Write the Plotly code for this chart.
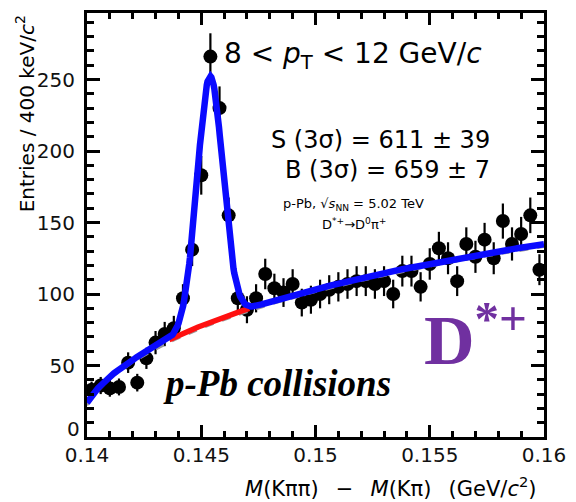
import numpy as np
import plotly.graph_objects as go

# ---------------- data ----------------
bin_width = 0.0004          # GeV/c^2 (400 keV)
mass_lo, mass_hi = 0.14, 0.16
bin_centers = [round(mass_lo + bin_width * (i + 0.5), 5) for i in range(50)]

entries = [33, 36, 34, 35, 52, 38, 55, 66, 72, 76,
           97, 131, 183, 266, 230, 155, 97, 89, 97, 114,
           104, 101, 107, 94, 96, 100, 103, 105, 107, 109,
           109, 107, 109, 100, 116, 116, 105, 121, 132, 125,
           109, 135, 126, 138, 125, 151, 135, 142, 155, 117]
errors = [float(np.sqrt(n)) for n in entries]

# fit parameters
m_pion = 0.13957
bkg_norm = 954.0
bkg_power = 0.475
bkg_slope = -5.3
sig_amp = 172.0
sig_mean = 0.14538
sig_sigma = 0.00056
red_range = [0.1436, 0.1471]
sideband_offset = 1.8

x_ticks = [0.14, 0.145, 0.15, 0.155, 0.16]
x_tick_text = ["0.14", "0.145", "0.15", "0.155", "0.16"]
y_ticks = [0, 50, 100, 150, 200, 250]
y_tick_text = ["", "50", "100", "150", "200", "250"]   # "0" is drawn a little higher, as in the original


def background(x, shift=0.0):
    dx = x - m_pion
    return bkg_norm * dx ** bkg_power * np.exp(bkg_slope * dx) - shift


def total(x):
    return background(x) + sig_amp * np.exp(-0.5 * ((x - sig_mean) / sig_sigma) ** 2)


xf = np.linspace(mass_lo, mass_hi, 600)
xr = np.linspace(red_range[0], red_range[1], 120)

SANS = "DejaVu Sans"
SERIF = "Liberation Serif"

fig = go.Figure()
fig.add_trace(go.Scatter(
    x=bin_centers, y=entries, mode="markers",
    marker=dict(color="black", size=14),
    error_y=dict(type="data", array=errors, color="black", thickness=2.2, width=0),
    showlegend=False, hoverinfo="x+y"))
fig.add_trace(go.Scatter(
    x=xf, y=background(xf, sideband_offset), mode="lines",
    line=dict(color="#9a9a9a", width=2.5, dash="dash"), showlegend=False))
fig.add_trace(go.Scatter(
    x=xr, y=background(xr), mode="lines",
    line=dict(color="#ff1010", width=5.5), showlegend=False))
fig.add_trace(go.Scatter(
    x=xf, y=total(xf), mode="lines",
    line=dict(color="#0a0aff", width=6.5), showlegend=False))

axis_common = dict(
    showline=True, linecolor="black", linewidth=3, mirror="ticks",
    ticks="inside", tickcolor="black", tickwidth=2.5,
    showgrid=False, zeroline=False, ticklabeloverflow="allow",
    tickfont=dict(family=SANS, size=20, color="#111"),
)
fig.update_xaxes(
    range=[mass_lo, mass_hi], tickvals=x_ticks, ticktext=x_tick_text,
    ticklen=12, ticklabelstandoff=-2,
    minor=dict(ticks="inside", dtick=0.001, ticklen=6, tickwidth=2.5, tickcolor="black",
               showgrid=False),
    **axis_common)
fig.update_yaxes(
    range=[0, 296.5], tickvals=y_ticks, ticktext=y_tick_text, ticklen=13, ticklabelstandoff=5,
    minor=dict(ticks="inside", dtick=10, ticklen=7, tickwidth=2.5, tickcolor="black",
               showgrid=False),
    **axis_common)

ann = []
ann.append(dict(x=-0.011, y=0.0, xref="paper", yref="paper", xanchor="right", yanchor="bottom",
                yshift=-6, text="0",
                font=dict(family=SANS, size=20, color="#111"), showarrow=False))
ann.append(dict(x=0.14592, y=267, xref="x", yref="y", xanchor="left", yanchor="middle",
                text="8 &lt; <i>p</i><sub>T</sub> &lt; 12 GeV/<i>c</i>",
                font=dict(family=SANS, size=28, color="black"), showarrow=False))
ann.append(dict(x=0.15774, y=207.6, xref="x", yref="y", xanchor="right", yanchor="middle",
                text="S (3σ) = 611 ± 39",
                font=dict(family=SANS, size=24, color="black"), showarrow=False))
ann.append(dict(x=0.15774, y=186.8, xref="x", yref="y", xanchor="right", yanchor="middle",
                text="B (3σ) = 659 ± 7",
                font=dict(family=SANS, size=24, color="black"), showarrow=False))
ann.append(dict(x=0.151667, y=162.5, xref="x", yref="y", xanchor="center", yanchor="middle",
                text="p-Pb, √<i>s</i><sub>NN</sub> = 5.02 TeV",
                font=dict(family=SANS, size=13, color="black"), showarrow=False))
ann.append(dict(x=0.151667, y=149.3, xref="x", yref="y", xanchor="center", yanchor="middle",
                text="D<sup>*+</sup>→D<sup>0</sup>π<sup>+</sup>",
                font=dict(family=SANS, size=13, color="black"), showarrow=False))
ann.append(dict(x=0.14325, y=37.5, xref="x", yref="y", xanchor="left", yanchor="middle",
                text="<b><i>p-Pb collisions</i></b>",
                font=dict(family=SERIF, size=37, color="black"), showarrow=False))
ann.append(dict(x=0.15466, y=71.5, xref="x", yref="y", xanchor="left", yanchor="middle",
                text="<b>D<sup>*+</sup></b>",
                font=dict(family=SERIF, size=70, color="#7030a0"), showarrow=False))
# axis titles
ann.append(dict(x=0.989, y=-0.118, xref="paper", yref="paper", xanchor="right", yanchor="middle",
                text="<i>M</i>(Kππ) \u2002−\u2002 <i>M</i>(Kπ) \u2002(GeV/<i>c</i><sup>2</sup>)",
                font=dict(family=SANS, size=21, color="black"), showarrow=False))
ann.append(dict(x=-0.136, y=1.0, xref="paper", yref="paper", xanchor="center", yanchor="top",
                text="Entries / 400 keV/<i>c</i><sup>2</sup>", textangle=-90,
                font=dict(family=SANS, size=20, color="black"), showarrow=False))

fig.update_layout(
    width=576, height=502,
    margin=dict(l=87, r=21, t=10, b=65),
    paper_bgcolor="white", plot_bgcolor="white",
    annotations=ann, showlegend=False,
)

fig.write_html(
    "out.html",
    config={"displayModeBar": False},
    post_script="document.body.style.margin='0';document.body.style.overflow='hidden';",
)
